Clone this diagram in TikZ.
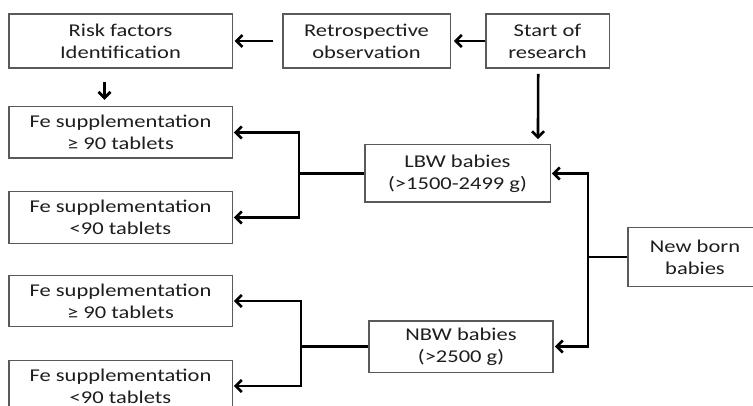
\documentclass[tikz,border=0pt]{standalone}
\usepackage{fontspec}
\setmainfont{Carlito}[FakeStretch=1.25]
\usepackage{tikz}
\usetikzlibrary{arrows.meta}
\definecolor{boxgray}{HTML}{5A5A5A}
\definecolor{ink}{HTML}{1E1E1E}
\tikzstyle{stage}=[rectangle, draw=boxgray, line width=0.8pt, fill=white, align=center, inner sep=0pt, text=ink, font=\fontsize{13.5}{16.5}\selectfont]
\tikzstyle{link}=[line width=2pt, draw=black]
\tikzstyle{flow}=[link, -{Straight Barb[length=4.5pt,width=9pt]}]

\begin{document}
\begin{tikzpicture}[x=0.75pt, y=-0.75pt]
			\useasboundingbox (0,0) rectangle (753,406);
			\node[stage, minimum width=167.3pt, minimum height=40.5pt] (risk) at (120.5,41) {Risk factors\\Identification};
			\node[stage, minimum width=125.3pt, minimum height=40.5pt] (retro) at (366.5,41) {Retrospective\\observation};
			\node[stage, minimum width=92.3pt, minimum height=40.5pt] (start) at (547.5,41) {Start of\\research};
			\node[stage, minimum width=167.3pt, minimum height=38.3pt] (fe1) at (120.5,132.5) {Fe supplementation\\≥ 90 tablets};
			\node[stage, minimum width=167.3pt, minimum height=38.3pt] (fe2) at (120.5,217.5) {Fe supplementation\\<90 tablets};
			\node[stage, minimum width=167.3pt, minimum height=38.3pt] (fe3) at (120.5,301) {Fe supplementation\\≥ 90 tablets};
			\node[stage, minimum width=167.3pt, minimum height=38.3pt] (fe4) at (120.5,386) {Fe supplementation\\<90 tablets};
			\node[stage, minimum width=138.8pt, minimum height=42.8pt] (lbw) at (457.5,173.5) {LBW babies\\(>1500-2499 g)};
			\node[stage, minimum width=138pt, minimum height=38.3pt] (nbw) at (461,346.5) {NBW babies\\(>2500 g)};
			\node[stage, minimum width=100.5pt, minimum height=44.3pt] (newborn) at (695,257) {New born\\babies};
			\coordinate (lbwj) at (299,173.5);
			\coordinate (nbwj) at (301,346.5);
			\coordinate (nbj) at (588,257);
			\draw[flow, shorten >=2.5pt] (start) -- (retro);
			\draw[flow, shorten <=7pt, shorten >=1.5pt] (retro) -- (risk);
			\draw[flow] ([xshift=-12pt, yshift=-10pt]risk.south) -- ([xshift=-12pt, yshift=5pt]fe1.north);
			\draw[flow] ([xshift=-7pt, yshift=-4pt]start.south) -- ([xshift=60.4pt, yshift=4pt]lbw.north);
			\draw[link] (lbw.west) -- (lbwj);
			\draw[flow, shorten >=1pt] (lbwj) |- (fe1.east);
			\draw[flow, shorten >=1pt] (lbwj) |- (fe2.east);
			\draw[link] (nbw.west) -- (nbwj);
			\draw[flow, shorten >=1pt] (nbwj) |- (fe3.east);
			\draw[flow, shorten >=1pt] (nbwj) |- (fe4.east);
			\draw[link] (newborn.west) -- (nbj);
			\draw[flow, shorten >=1pt] (nbj) |- (lbw.east);
			\draw[flow, shorten >=1pt] (nbj) |- (nbw.east);
		\end{tikzpicture}
\end{document}
